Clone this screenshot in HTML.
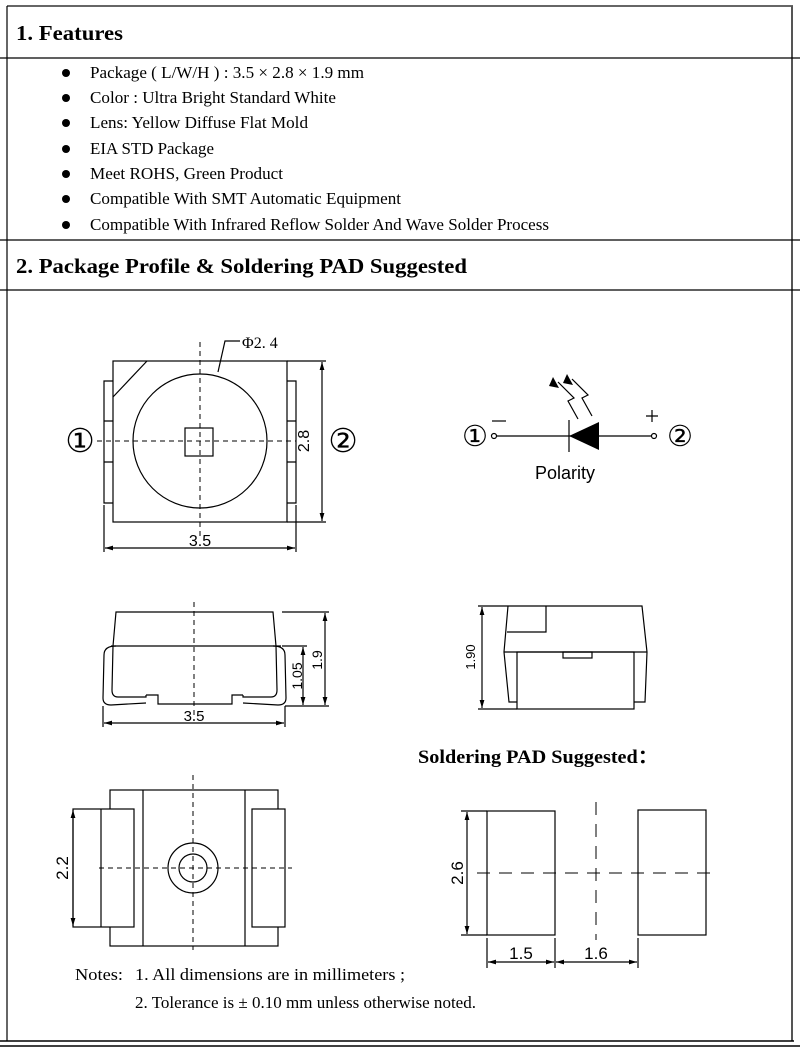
<!DOCTYPE html>
<html><head><meta charset="utf-8"><style>
body{margin:0;background:#fff}
svg{display:block}
text{font-family:"Liberation Serif",serif;fill:#000}
.s{font-family:"Liberation Sans",sans-serif}
</style></head><body>
<svg width="800" height="1047" viewBox="0 0 800 1047" xmlns="http://www.w3.org/2000/svg">
<defs>
<marker id="a" viewBox="0 0 10 10" refX="10" refY="5" markerWidth="8" markerHeight="8" orient="auto-start-reverse" markerUnits="userSpaceOnUse"><path d="M0,2L10,5L0,8z" fill="#000"/></marker>
</defs>
<g fill="none" stroke="#000" stroke-width="1.2">
<line x1="7" y1="6" x2="793" y2="6" stroke="#333" stroke-width="1.5"/>
<line x1="7" y1="6" x2="7" y2="1041"/>
<line x1="792" y1="6" x2="792" y2="1041" stroke="#555" stroke-width="2"/>
<line x1="0" y1="58" x2="800" y2="58"/>
<line x1="0" y1="240" x2="800" y2="240"/>
<line x1="0" y1="290" x2="800" y2="290"/>
<line x1="0" y1="1041" x2="794" y2="1041" stroke-width="1.5"/>
<line x1="0" y1="1046" x2="800" y2="1046" stroke-width="1.5"/>
</g>
<text x="16" y="40" font-size="21" font-weight="bold" textLength="107" lengthAdjust="spacingAndGlyphs">1. Features</text>
<g font-size="16.5">
<circle cx="66" cy="73" r="4"/><text x="90" y="78" textLength="274" lengthAdjust="spacingAndGlyphs">Package ( L/W/H ) : 3.5 × 2.8 × 1.9 mm</text>
<circle cx="66" cy="98" r="4"/><text x="90" y="103" textLength="246" lengthAdjust="spacingAndGlyphs">Color : Ultra Bright Standard White</text>
<circle cx="66" cy="123" r="4"/><text x="90" y="128" textLength="218" lengthAdjust="spacingAndGlyphs">Lens: Yellow Diffuse Flat Mold</text>
<circle cx="66" cy="149" r="4"/><text x="90" y="154" textLength="124" lengthAdjust="spacingAndGlyphs">EIA STD Package</text>
<circle cx="66" cy="174" r="4"/><text x="90" y="179" textLength="193" lengthAdjust="spacingAndGlyphs">Meet ROHS, Green Product</text>
<circle cx="66" cy="199" r="4"/><text x="90" y="204" textLength="311" lengthAdjust="spacingAndGlyphs">Compatible With SMT Automatic Equipment</text>
<circle cx="66" cy="225" r="4"/><text x="90" y="230" textLength="459" lengthAdjust="spacingAndGlyphs">Compatible With Infrared Reflow Solder And Wave Solder Process</text>
</g>
<text x="16" y="273" font-size="21" font-weight="bold" textLength="451" lengthAdjust="spacingAndGlyphs">2. Package Profile &amp; Soldering PAD Suggested</text>

<!-- top view -->
<g fill="none" stroke="#000" stroke-width="1.2">
<rect x="113" y="361" width="174" height="161"/>
<path d="M113,381H104V503H113M104,421H113M104,462H113"/>
<path d="M287,381H296V503H287M287,421H296M287,462H296"/>
<line x1="147" y1="361" x2="113" y2="397"/>
<circle cx="200" cy="441" r="67"/>
<rect x="185" y="428" width="28" height="28"/>
<g stroke-dasharray="5,4" stroke-width="1"><line x1="200" y1="342" x2="200" y2="540"/><line x1="97" y1="441" x2="296" y2="441"/></g>
<path d="M218,372L225,341H240"/>
<path d="M287,361H326M287,522H326"/>
<line x1="322" y1="362" x2="322" y2="521" marker-start="url(#a)" marker-end="url(#a)"/>
<path d="M104,505V552M296,505V552"/>
<line x1="105" y1="548" x2="295" y2="548" marker-start="url(#a)" marker-end="url(#a)"/>
</g>
<text x="242" y="348" font-size="16">Φ2. 4</text>
<text x="80" y="452" font-size="33" text-anchor="middle">①</text>
<text x="343" y="452" font-size="33" text-anchor="middle">②</text>
<text class="s" x="200" y="546" font-size="16" text-anchor="middle">3.5</text>
<text class="s" font-size="16" text-anchor="middle" transform="translate(309,441) rotate(-90)">2.8</text>

<!-- polarity -->
<g fill="none" stroke="#000" stroke-width="1.2">
<line x1="497" y1="436" x2="651" y2="436"/>
<circle cx="494" cy="436" r="2.5"/><circle cx="654" cy="436" r="2.5"/>
<line x1="492" y1="421" x2="506" y2="421"/>
<path d="M646,416H658M652,410V422"/>
<line x1="569" y1="420" x2="569" y2="452"/>
<path d="M578,419L568,401L574,398L558,382" />
<path d="M592,416L582,398L588,395L572,379" />
</g>
<polygon points="569,436 599,422 599,450"/>
<polygon points="553,377 559,388 549,386"/>
<polygon points="567,374 573,385 563,383"/>
<text x="475" y="446" font-size="29" text-anchor="middle">①</text>
<text x="680" y="446" font-size="29" text-anchor="middle">②</text>
<text class="s" x="565" y="479" font-size="18" text-anchor="middle">Polarity</text>

<!-- side view -->
<g fill="none" stroke="#000" stroke-width="1.2">
<path d="M113,646L116,612H273L276,646"/>
<line x1="111" y1="646" x2="281" y2="646"/>
<path d="M113,646L112,690Q112,697 118,697H146V695"/>
<path d="M116,646Q104,646 104,655L103,698Q103,705 111,705L146,703"/>
<path d="M276,646L277,690Q277,697 271,697H243V695"/>
<path d="M273,646Q285,646 285,655L286,698Q286,705 278,705L243,703"/>
<path d="M146,695H158V704H232V695H243"/>
<line x1="194" y1="602" x2="194" y2="720" stroke-dasharray="5,4" stroke-width="1"/>
<path d="M282,612H329M282,646H307M285,706H329"/>
<line x1="325" y1="613" x2="325" y2="705" marker-start="url(#a)" marker-end="url(#a)"/>
<line x1="303" y1="647" x2="303" y2="705" marker-start="url(#a)" marker-end="url(#a)"/>
<path d="M103,706V727M285,706V727"/>
<line x1="104" y1="723" x2="284" y2="723" marker-start="url(#a)" marker-end="url(#a)"/>
</g>
<text class="s" x="194" y="721" font-size="15" text-anchor="middle">3.5</text>
<text class="s" font-size="14" text-anchor="middle" transform="translate(302,676) rotate(-90)">1.05</text>
<text class="s" font-size="14" text-anchor="middle" transform="translate(322,660) rotate(-90)">1.9</text>

<!-- end view -->
<g fill="none" stroke="#000" stroke-width="1.2">
<path d="M508,606H642L647,652L645,702H634"/>
<path d="M508,606L504,652L509,702H517"/>
<path d="M504,652H647"/>
<rect x="517" y="652" width="117" height="57"/>
<path d="M507,632H546V606"/>
<rect x="563" y="652" width="29" height="6"/>
<path d="M478,606H508M478,709H517"/>
<line x1="482" y1="607" x2="482" y2="708" marker-start="url(#a)" marker-end="url(#a)"/>
</g>
<text class="s" font-size="13" text-anchor="middle" transform="translate(475,657) rotate(-90)">1.90</text>

<text x="418" y="763" font-size="18.5" font-weight="bold" textLength="240" lengthAdjust="spacingAndGlyphs">Soldering PAD Suggested：</text>

<!-- bottom view -->
<g fill="none" stroke="#000" stroke-width="1.2">
<rect x="110" y="790" width="168" height="156"/>
<path d="M143,790V946M245,790V946"/>
<rect x="73" y="809" width="61" height="118" fill="#fff"/>
<line x1="101" y1="809" x2="101" y2="927"/>
<rect x="252" y="809" width="33" height="118" fill="#fff"/>
<circle cx="193" cy="868" r="25"/><circle cx="193" cy="868" r="14"/>
<g stroke-dasharray="5,4" stroke-width="1"><line x1="193" y1="775" x2="193" y2="950"/><line x1="99" y1="868" x2="292" y2="868"/></g>
<line x1="73" y1="810" x2="73" y2="926" marker-start="url(#a)" marker-end="url(#a)"/>
</g>
<text class="s" font-size="17" text-anchor="middle" transform="translate(68,868) rotate(-90)">2.2</text>

<!-- pads -->
<g fill="none" stroke="#000" stroke-width="1.2">
<rect x="487" y="811" width="68" height="124"/>
<rect x="638" y="810" width="68" height="125"/>
<g stroke-dasharray="13,9" stroke-width="1"><line x1="596" y1="802" x2="596" y2="940"/><line x1="477" y1="873" x2="715" y2="873"/></g>
<path d="M461,811H487M461,935H487"/>
<line x1="467" y1="812" x2="467" y2="934" marker-start="url(#a)" marker-end="url(#a)"/>
<path d="M487,938V968M555,938V968M638,938V968"/>
<line x1="488" y1="962" x2="554" y2="962" marker-start="url(#a)" marker-end="url(#a)"/>
<line x1="556" y1="962" x2="637" y2="962" marker-start="url(#a)" marker-end="url(#a)"/>
</g>
<text class="s" font-size="17" text-anchor="middle" transform="translate(463,873) rotate(-90)">2.6</text>
<text class="s" x="521" y="959" font-size="17" text-anchor="middle">1.5</text>
<text class="s" x="596" y="959" font-size="17" text-anchor="middle">1.6</text>

<text x="75" y="980" font-size="16.5" textLength="48" lengthAdjust="spacingAndGlyphs">Notes:</text>
<text x="135" y="980" font-size="16.5" textLength="270" lengthAdjust="spacingAndGlyphs">1. All dimensions are in millimeters ;</text>
<text x="135" y="1008" font-size="16.5" textLength="341" lengthAdjust="spacingAndGlyphs">2. Tolerance is ± 0.10 mm unless otherwise noted.</text>
</svg>
</body></html>
